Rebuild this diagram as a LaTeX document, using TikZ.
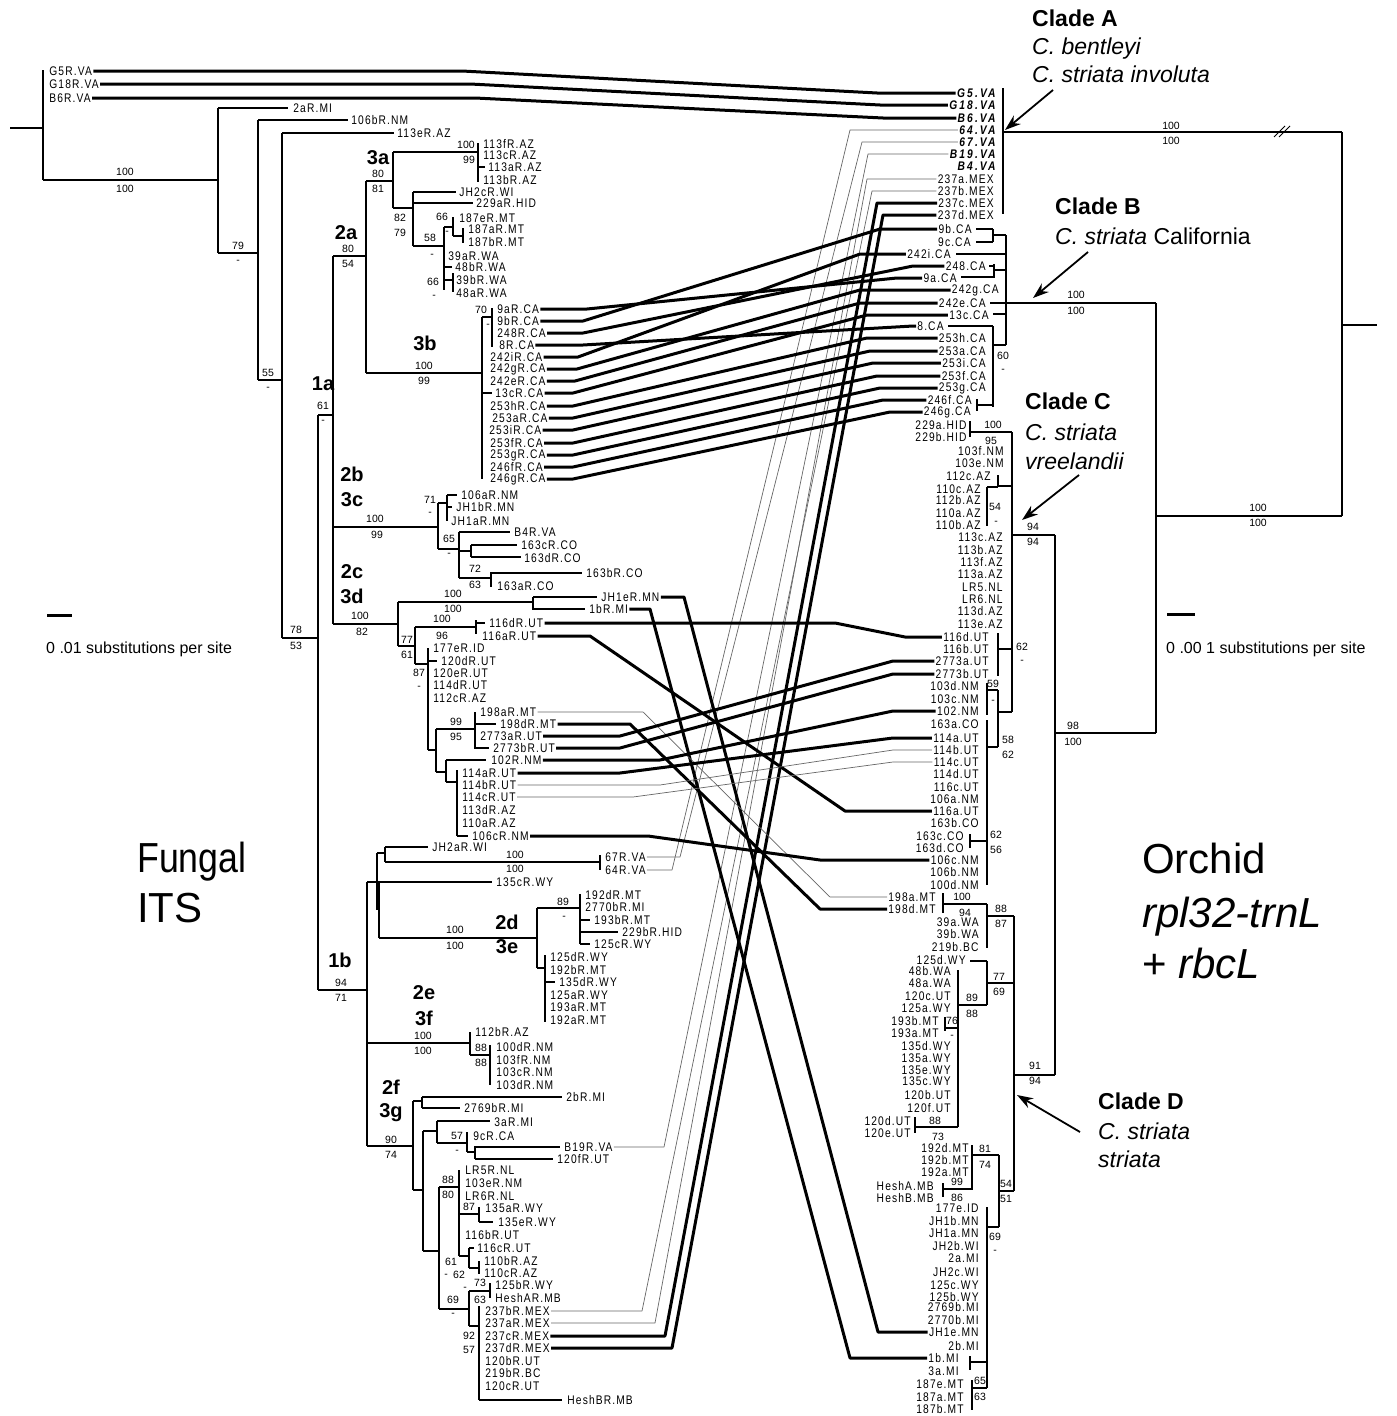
\documentclass[tikz,border=0pt]{standalone}
\usepackage{fontspec}
\setmainfont{Liberation Sans}
\newfontfamily\lffont[FakeStretch=0.82,LetterSpace=9]{Liberation Sans}
\newfontfamily\lfbfont[FakeStretch=0.82,LetterSpace=17]{Liberation Sans}
\newfontfamily\fungfont[FakeStretch=0.85]{Liberation Sans}
\usetikzlibrary{arrows.meta}
\newcounter{sc}
\tikzset{
  lf/.style={font=\lffont\fontsize{12.5}{13}\selectfont, inner sep=1.2pt},
  lfb/.style={font=\lfbfont\fontsize{12.5}{13}\selectfont\bfseries\itshape, inner sep=1.2pt},
  sup/.style={font=\fontsize{10.5}{11}\selectfont, inner sep=0pt},
  cl/.style={font=\fontsize{20}{20}\selectfont\bfseries, inner sep=0pt},
  br/.style={line width=1.5pt},
  thk/.style={line width=3pt, line join=round},
  thn/.style={line width=0.7pt, black!60, line join=round},
  bigt/.style={font=\fontsize{23}{23}\selectfont, anchor=base west, inner sep=0pt},
  bigb/.style={font=\fontsize{23}{23}\selectfont\bfseries, anchor=base west, inner sep=0pt},
  hugt/.style={font=\fontsize{42}{42}\selectfont, anchor=base west, inner sep=0pt},
  sclt/.style={font=\fontsize{16}{16}\selectfont, anchor=base west, inner sep=0pt},
  arr/.style={line width=1.8pt, -{Stealth[length=16pt,width=11pt]}},
}
\newcommand\leafL[4]{\node[lf,anchor=west] (L#1) at (#2,#3) {#4};}
\newcommand\leafR[4]{\node[lf,anchor=east] (R#1) at (#2,#3) {#4};}
\newcommand\leafRb[4]{\node[lfb,anchor=east] (R#1) at (#2,#3) {#4};}
\newcommand\sv[3]{\stepcounter{sc}\node[sup] (s\arabic{sc}) at (#1,#2) {#3};}
\newcommand\clab[3]{\stepcounter{sc}\node[cl] (c\arabic{sc}) at (#1,#2) {#3};}
\begin{document}
\begin{tikzpicture}[x=1pt,y=-1pt]
\useasboundingbox[fill=white] (0,0) rectangle (1397,1416);
% ================= LEFT TREE =================
\draw[br]
 (10,128)--(43,128) (43,70)--(43,180) (43,180)--(218,180)
 (218,108)--(218,253) (218,108)--(288,108)
 (218,253)--(258,253) (258,120)--(258,380) (258,120)--(348,120)
 (258,380)--(282,380) (282,133)--(282,638) (282,133)--(394,133)
 (282,638)--(318,638) (318,415)--(318,990)
 (318,415)--(333,415) (333,256)--(333,624)
 (333,256)--(366,256) (366,181)--(366,373)
 (366,181)--(393,181) (393,152)--(393,208)
 (393,152)--(478,152) (478,143)--(478,182) (478,167)--(485,167)
 (393,208)--(413,208) (413,192)--(413,246)
 (413,192)--(456,192) (413,203)--(473,203)
 (413,246)--(444,246) (444,227)--(444,290)
 (444,227)--(453,227) (453,217)--(453,236)
 (453,236)--(463,236) (463,228)--(463,243)
 (444,267)--(452,267)
 (444,280)--(453,280) (453,273)--(453,292)
 (366,373)--(482,373) (482,317)--(482,479)
 (482,317)--(492,317) (492,308)--(492,347)
 (482,393)--(492,393)
 (333,527)--(438,527) (438,503)--(438,549)
 (438,503)--(447,503) (447,495)--(447,521)
 (447,495)--(457,495) (447,507)--(452,507)
 (438,549)--(459,549) (459,532)--(459,578)
 (459,532)--(510,532)
 (459,551)--(471,551) (471,545)--(471,557)
 (471,545)--(517,545) (471,557)--(521,557)
 (459,578)--(491,578) (491,572)--(491,587)
 (491,573)--(582,573)
 (333,624)--(398,624) (398,602)--(398,646)
 (398,602)--(533,602) (533,597)--(533,610)
 (533,597)--(597,597) (533,609)--(585,609)
 (398,646)--(415,646) (415,627)--(415,664)
 (415,627)--(476,627) (476,620)--(476,634)
 (476,623)--(485,623)
 (415,664)--(428,664) (428,648)--(428,750)
 (428,661)--(437,661)
 (428,750)--(436,750) (436,729)--(436,772)
 (436,729)--(475,729) (475,712)--(475,749)
 (475,724)--(496,724) (475,748)--(489,748)
 (436,772)--(446,772) (446,760)--(446,782)
 (446,760)--(486,760)
 (446,782)--(457,782) (457,770)--(457,836) (457,836)--(468,836)
 (318,990)--(367,990) (367,882)--(367,1146)
 (367,882)--(379,882) (377,853)--(377,910) (379,882)--(379,938)
 (377,853)--(385,853) (385,847)--(385,862)
 (385,847)--(428,847) (385,862)--(600,862) (600,855)--(600,870)
 (379,882)--(492,882)
 (379,938)--(537,938) (537,908)--(537,968)
 (537,908)--(580,908) (580,894)--(580,944)
 (580,920)--(590,920) (580,932)--(618,932) (580,944)--(590,944)
 (537,968)--(545,968) (545,955)--(545,1022) (545,982)--(555,982)
 (367,1043)--(470,1043) (470,1032)--(470,1055)
 (470,1055)--(490,1055) (490,1045)--(490,1085)
 (367,1146)--(413,1146) (413,1101)--(413,1190)
 (413,1101)--(422,1101) (422,1097)--(422,1108)
 (422,1097)--(562,1097) (422,1108)--(460,1108)
 (413,1190)--(423,1190) (423,1131)--(423,1251)
 (423,1131)--(437,1131) (437,1121)--(437,1143)
 (437,1121)--(490,1121)
 (437,1143)--(467,1143) (467,1132)--(467,1152)
 (467,1152)--(475,1152) (475,1146)--(475,1159)
 (475,1147)--(560,1147) (475,1159)--(553,1159)
 (423,1251)--(439,1251) (439,1187)--(439,1309)
 (439,1187)--(459,1187) (459,1170)--(459,1256)
 (459,1214)--(479,1214) (479,1207)--(479,1222) (479,1222)--(493,1222)
 (459,1256)--(469,1256) (469,1248)--(469,1268)
 (469,1248)--(474,1248)
 (469,1268)--(479,1268) (479,1261)--(479,1274)
 (439,1309)--(469,1309) (469,1291)--(469,1326)
 (469,1291)--(490,1291) (490,1283)--(490,1298)
 (469,1326)--(479,1326) (479,1306)--(479,1400)
 (479,1400)--(562,1400);
% left leaves
\leafL{G5}{48}{71}{G5R.VA}
\leafL{G18}{48}{84}{G18R.VA}
\leafL{B6}{48}{98}{B6R.VA}
\leafL{2a}{292}{108}{2aR.MI}
\leafL{106b}{350}{120}{106bR.NM}
\leafL{113e}{396}{133}{113eR.AZ}
\leafL{113f}{482}{144}{113fR.AZ}
\leafL{113c}{482}{155}{113cR.AZ}
\leafL{113a}{487}{167}{113aR.AZ}
\leafL{113b}{482}{180}{113bR.AZ}
\leafL{JH2c}{458}{192}{JH2cR.WI}
\leafL{229a}{475}{203}{229aR.HID}
\leafL{187e}{458}{218}{187eR.MT}
\leafL{187a}{467}{229}{187aR.MT}
\leafL{187b}{467}{242}{187bR.MT}
\leafL{39a}{447}{256}{39aR.WA}
\leafL{48b}{454}{267}{48bR.WA}
\leafL{39b}{455}{280}{39bR.WA}
\leafL{48a}{455}{293}{48aR.WA}
\leafL{9a}{496}{309}{9aR.CA}
\leafL{9b}{496}{321}{9bR.CA}
\leafL{248}{496}{333}{248R.CA}
\leafL{8}{498}{345}{8R.CA}
\leafL{242i}{489}{357}{242iR.CA}
\leafL{242g}{489}{369}{242gR.CA}
\leafL{242e}{489}{381}{242eR.CA}
\leafL{13c}{494}{393}{13cR.CA}
\leafL{253h}{489}{406}{253hR.CA}
\leafL{253a}{491}{418}{253aR.CA}
\leafL{253i}{488}{430}{253iR.CA}
\leafL{253f}{489}{443}{253fR.CA}
\leafL{253g}{489}{455}{253gR.CA}
\leafL{246f}{489}{467}{246fR.CA}
\leafL{246g}{489}{479}{246gR.CA}
\leafL{106a}{460}{495}{106aR.NM}
\leafL{JH1b}{455}{507}{JH1bR.MN}
\leafL{JH1a}{450}{521}{JH1aR.MN}
\leafL{B4}{513}{532}{B4R.VA}
\leafL{163c}{520}{545}{163cR.CO}
\leafL{163d}{523}{558}{163dR.CO}
\leafL{163b}{585}{573}{163bR.CO}
\leafL{163a}{496}{586}{163aR.CO}
\leafL{JH1e}{600}{597}{JH1eR.MN}
\leafL{1b}{588}{609}{1bR.MI}
\leafL{116d}{488}{623}{116dR.UT}
\leafL{116a}{481}{636}{116aR.UT}
\leafL{177e}{432}{648}{177eR.ID}
\leafL{120d}{440}{661}{120dR.UT}
\leafL{120e}{432}{673}{120eR.UT}
\leafL{114d}{432}{685}{114dR.UT}
\leafL{112c}{432}{698}{112cR.AZ}
\leafL{198a}{479}{712}{198aR.MT}
\leafL{198d}{499}{724}{198dR.MT}
\leafL{2773a}{479}{736}{2773aR.UT}
\leafL{2773b}{492}{748}{2773bR.UT}
\leafL{102}{490}{760}{102R.NM}
\leafL{114a}{461}{773}{114aR.UT}
\leafL{114b}{461}{785}{114bR.UT}
\leafL{114c}{461}{797}{114cR.UT}
\leafL{113d}{461}{810}{113dR.AZ}
\leafL{110a}{461}{823}{110aR.AZ}
\leafL{106c}{471}{836}{106cR.NM}
\leafL{JH2a}{431}{847}{JH2aR.WI}
\leafL{67}{604}{857}{67R.VA}
\leafL{64}{604}{870}{64R.VA}
\leafL{135c}{495}{882}{135cR.WY}
\leafL{192d}{584}{895}{192dR.MT}
\leafL{2770b}{584}{907}{2770bR.MI}
\leafL{193b}{593}{920}{193bR.MT}
\leafL{229b}{621}{932}{229bR.HID}
\leafL{125c}{593}{944}{125cR.WY}
\leafL{125d}{549}{957}{125dR.WY}
\leafL{192b}{549}{970}{192bR.MT}
\leafL{135d}{558}{982}{135dR.WY}
\leafL{125a}{549}{995}{125aR.WY}
\leafL{193a}{549}{1007}{193aR.MT}
\leafL{192a}{549}{1020}{192aR.MT}
\leafL{112b}{474}{1032}{112bR.AZ}
\leafL{100d}{495}{1047}{100dR.NM}
\leafL{103f}{495}{1060}{103fR.NM}
\leafL{103c}{495}{1072}{103cR.NM}
\leafL{103d}{495}{1085}{103dR.NM}
\leafL{2b}{565}{1097}{2bR.MI}
\leafL{2769b}{463}{1108}{2769bR.MI}
\leafL{3a}{493}{1122}{3aR.MI}
\leafL{9c}{472}{1136}{9cR.CA}
\leafL{B19}{563}{1147}{B19R.VA}
\leafL{120f}{556}{1159}{120fR.UT}
\leafL{LR5}{464}{1170}{LR5R.NL}
\leafL{103e}{464}{1183}{103eR.NM}
\leafL{LR6}{464}{1196}{LR6R.NL}
\leafL{135a}{484}{1208}{135aR.WY}
\leafL{135e}{497}{1222}{135eR.WY}
\leafL{116b}{464}{1235}{116bR.UT}
\leafL{116c}{476}{1248}{116cR.UT}
\leafL{110b}{483}{1261}{110bR.AZ}
\leafL{110c}{483}{1273}{110cR.AZ}
\leafL{125b}{494}{1285}{125bR.WY}
\leafL{HeshA}{494}{1298}{HeshAR.MB}
\leafL{237b}{484}{1311}{237bR.MEX}
\leafL{237a}{484}{1323}{237aR.MEX}
\leafL{237c}{484}{1336}{237cR.MEX}
\leafL{237d}{484}{1348}{237dR.MEX}
\leafL{120b}{484}{1361}{120bR.UT}
\leafL{219b}{484}{1373}{219bR.BC}
\leafL{120c}{484}{1386}{120cR.UT}
\leafL{HeshB}{566}{1400}{HeshBR.MB}
% left support values
\sv{125}{172}{100} \sv{125}{189}{100}
\sv{238}{246}{79} \sv{238}{262}{-}
\sv{268}{373}{55} \sv{268}{389}{-}
\sv{296}{630}{78} \sv{296}{646}{53}
\sv{323}{406}{61} \sv{323}{422}{-}
\sv{348}{249}{80} \sv{348}{264}{54}
\sv{378}{174}{80} \sv{378}{189}{81}
\sv{466}{145}{100} \sv{469}{160}{99}
\sv{400}{218}{82} \sv{400}{233}{79}
\sv{430}{238}{58} \sv{432}{256}{-}
\sv{442}{217}{66} \sv{447}{233}{-}
\sv{433}{282}{66} \sv{434}{297}{-}
\sv{424}{366}{100} \sv{424}{381}{99}
\sv{481}{310}{70} \sv{488}{326}{-}
\sv{375}{519}{100} \sv{377}{535}{99}
\sv{430}{500}{71} \sv{430}{514}{-}
\sv{449}{539}{65} \sv{449}{555}{-}
\sv{475}{569}{72} \sv{475}{585}{63}
\sv{360}{616}{100} \sv{362}{632}{82}
\sv{453}{594}{100} \sv{453}{609}{100}
\sv{407}{640}{77} \sv{407}{655}{61}
\sv{442}{619}{100} \sv{442}{636}{96}
\sv{419}{673}{87} \sv{419}{688}{-}
\sv{456}{722}{99} \sv{456}{737}{95}
\sv{341}{983}{94} \sv{341}{998}{71}
\sv{515}{855}{100} \sv{515}{869}{100}
\sv{455}{930}{100} \sv{455}{946}{100}
\sv{563}{902}{89} \sv{564}{918}{-}
\sv{423}{1036}{100} \sv{423}{1051}{100}
\sv{481}{1048}{88} \sv{481}{1063}{88}
\sv{391}{1140}{90} \sv{391}{1155}{74}
\sv{457}{1136}{57} \sv{457}{1152}{-}
\sv{448}{1180}{88} \sv{448}{1195}{80}
\sv{469}{1207}{87}
\sv{451}{1262}{61} \sv{446}{1276}{-} \sv{459}{1275}{62}
\sv{453}{1300}{69} \sv{453}{1315}{-}
\sv{480}{1283}{73} \sv{465}{1289}{-} \sv{480}{1300}{63}
\sv{469}{1336}{92} \sv{469}{1350}{57}
% left clade labels
\clab{378}{158}{3a} \clab{346}{233}{2a} \clab{425}{343}{3b} \clab{323}{384}{1a}
\clab{352}{474}{2b} \clab{352}{500}{3c} \clab{352}{572}{2c} \clab{352}{596}{3d}
\clab{340}{960}{1b} \clab{507}{922}{2d} \clab{507}{947}{3e} \clab{424}{993}{2e}
\clab{424}{1018}{3f} \clab{391}{1087}{2f} \clab{391}{1113}{3g}
% ================= RIGHT TREE =================
\draw[line width=1.8pt] (1003,88)--(1003,214);
\draw[br]
 (1003,132)--(1342,132)
 (976,229)--(993,229) (976,242)--(993,242) (993,229)--(993,242) (993,235)--(1006,235)
 (956,254)--(1006,254)
 (989,266)--(994,266) (961,277)--(994,277) (994,264)--(994,278) (994,270)--(1006,270)
 (990,303)--(1006,303) (993,314)--(1006,314)
 (1006,235)--(1006,345)
 (948,326)--(993,326) (993,326)--(993,407) (993,345)--(1006,345)
 (977,399)--(977,411) (977,405)--(993,405)
 (1006,303)--(1156,303)
 (970,421)--(970,437) (970,432)--(1012,432)
 (1012,432)--(1012,712)
 (998,475)--(998,487) (998,486)--(1012,486) (987,487)--(987,526) (987,487)--(998,487)
 (1012,535)--(1055,535)
 (998,633)--(998,676) (998,649)--(1012,649)
 (987,683)--(987,715) (987,690)--(998,690)
 (998,690)--(998,747) (998,712)--(1012,712) (987,747)--(998,747)
 (987,720)--(987,885)
 (970,834)--(970,848) (970,841)--(987,841)
 (943,893)--(943,913) (943,904)--(987,904)
 (987,904)--(987,948) (987,916)--(1014,916)
 (970,961)--(987,961) (987,961)--(987,1005) (987,983)--(1014,983)
 (958,970)--(958,1127) (958,1005)--(987,1005)
 (945,1017)--(945,1031) (945,1028)--(958,1028)
 (915,1117)--(915,1133) (915,1127)--(958,1127)
 (972,1145)--(972,1190) (972,1155)--(999,1155)
 (943,1183)--(943,1197) (943,1189)--(972,1189)
 (999,1155)--(999,1227) (999,1191)--(1014,1191)
 (987,1207)--(987,1388) (987,1227)--(999,1227)
 (970,1356)--(970,1370) (970,1362)--(987,1362)
 (972,1380)--(972,1410) (972,1388)--(987,1388)
 (1014,916)--(1014,1191) (1014,1075)--(1055,1075)
 (1055,535)--(1055,1075) (1055,733)--(1156,733)
 (1156,303)--(1156,733) (1156,516)--(1342,516)
 (1342,132)--(1342,516) (1342,325)--(1377,325);
\draw[line width=1pt] (1274,137)--(1285,126) (1279,137)--(1290,126);
% right leaves
\leafRb{G5}{997}{93}{G5.VA}
\leafRb{G18}{997}{105}{G18.VA}
\leafRb{B6}{997}{118}{B6.VA}
\leafRb{64}{997}{130}{64.VA}
\leafRb{67}{997}{142}{67.VA}
\leafRb{B19}{997}{154}{B19.VA}
\leafRb{B4}{997}{166}{B4.VA}
\leafR{237a}{995}{179}{237a.MEX}
\leafR{237b}{995}{191}{237b.MEX}
\leafR{237c}{995}{203}{237c.MEX}
\leafR{237d}{995}{215}{237d.MEX}
\leafR{9b}{973}{229}{9b.CA}
\leafR{9c}{972}{242}{9c.CA}
\leafR{242i}{952}{254}{242i.CA}
\leafR{248}{987}{266}{248.CA}
\leafR{9a}{958}{278}{9a.CA}
\leafR{242g}{1000}{290}{242g.CA}
\leafR{242e}{987}{303}{242e.CA}
\leafR{13c}{990}{315}{13c.CA}
\leafR{8}{945}{326}{8.CA}
\leafR{253h}{987}{338}{253h.CA}
\leafR{253a}{987}{351}{253a.CA}
\leafR{253i}{987}{363}{253i.CA}
\leafR{253f}{987}{376}{253f.CA}
\leafR{253g}{987}{388}{253g.CA}
\leafR{246f}{973}{400}{246f.CA}
\leafR{246g}{972}{412}{246g.CA}
\leafR{229a}{968}{425}{229a.HID}
\leafR{229b}{968}{437}{229b.HID}
\leafR{103f}{1005}{451}{103f.NM}
\leafR{103e}{1005}{463}{103e.NM}
\leafR{112c}{992}{476}{112c.AZ}
\leafR{110c}{982}{489}{110c.AZ}
\leafR{112b}{982}{500}{112b.AZ}
\leafR{110a}{982}{513}{110a.AZ}
\leafR{110b}{982}{525}{110b.AZ}
\leafR{113c}{1004}{537}{113c.AZ}
\leafR{113b}{1004}{550}{113b.AZ}
\leafR{113f}{1004}{562}{113f.AZ}
\leafR{113a}{1004}{574}{113a.AZ}
\leafR{LR5}{1004}{587}{LR5.NL}
\leafR{LR6}{1004}{599}{LR6.NL}
\leafR{113d}{1004}{611}{113d.AZ}
\leafR{113e}{1004}{624}{113e.AZ}
\leafR{116d}{990}{637}{116d.UT}
\leafR{116b}{990}{649}{116b.UT}
\leafR{2773a}{990}{661}{2773a.UT}
\leafR{2773b}{990}{674}{2773b.UT}
\leafR{103d}{980}{686}{103d.NM}
\leafR{103c}{980}{699}{103c.NM}
\leafR{102}{980}{711}{102.NM}
\leafR{163a}{980}{724}{163a.CO}
\leafR{114a}{980}{738}{114a.UT}
\leafR{114b}{980}{750}{114b.UT}
\leafR{114c}{980}{762}{114c.UT}
\leafR{114d}{980}{774}{114d.UT}
\leafR{116c}{980}{787}{116c.UT}
\leafR{106a}{980}{799}{106a.NM}
\leafR{116a}{980}{811}{116a.UT}
\leafR{163b}{980}{823}{163b.CO}
\leafR{163c}{965}{836}{163c.CO}
\leafR{163d}{965}{848}{163d.CO}
\leafR{106c}{980}{860}{106c.NM}
\leafR{106b}{980}{872}{106b.NM}
\leafR{100d}{980}{885}{100d.NM}
\leafR{198a}{937}{897}{198a.MT}
\leafR{198d}{937}{909}{198d.MT}
\leafR{39a}{980}{922}{39a.WA}
\leafR{39b}{980}{934}{39b.WA}
\leafR{219b}{980}{947}{219b.BC}
\leafR{125d}{967}{960}{125d.WY}
\leafR{48b}{952}{971}{48b.WA}
\leafR{48a}{952}{983}{48a.WA}
\leafR{120c}{952}{996}{120c.UT}
\leafR{125a}{952}{1008}{125a.WY}
\leafR{193b}{940}{1021}{193b.MT}
\leafR{193a}{940}{1033}{193a.MT}
\leafR{135d}{952}{1046}{135d.WY}
\leafR{135a}{952}{1058}{135a.WY}
\leafR{135e}{952}{1070}{135e.WY}
\leafR{135c}{952}{1081}{135c.WY}
\leafR{120b}{952}{1095}{120b.UT}
\leafR{120f}{952}{1108}{120f.UT}
\leafR{120d}{912}{1121}{120d.UT}
\leafR{120e}{912}{1133}{120e.UT}
\leafR{192d}{970}{1148}{192d.MT}
\leafR{192b}{970}{1160}{192b.MT}
\leafR{192a}{970}{1172}{192a.MT}
\leafR{HeshA}{935}{1186}{HeshA.MB}
\leafR{HeshB}{935}{1198}{HeshB.MB}
\leafR{177e}{980}{1208}{177e.ID}
\leafR{JH1b}{980}{1221}{JH1b.MN}
\leafR{JH1a}{980}{1233}{JH1a.MN}
\leafR{JH2b}{980}{1246}{JH2b.WI}
\leafR{2a}{980}{1258}{2a.MI}
\leafR{JH2c}{980}{1272}{JH2c.WI}
\leafR{125c}{980}{1285}{125c.WY}
\leafR{125b}{980}{1297}{125b.WY}
\leafR{2769b}{980}{1307}{2769b.MI}
\leafR{2770b}{980}{1320}{2770b.MI}
\leafR{JH1e}{980}{1332}{JH1e.MN}
\leafR{2b}{980}{1346}{2b.MI}
\leafR{1b}{960}{1358}{1b.MI}
\leafR{3a}{960}{1371}{3a.MI}
\leafR{187e}{965}{1384}{187e.MT}
\leafR{187a}{965}{1397}{187a.MT}
\leafR{187b}{965}{1409}{187b.MT}
% right support values
\sv{1171}{126}{100} \sv{1171}{141}{100}
\sv{1003}{356}{60} \sv{1003}{371}{-}
\sv{1076}{295}{100} \sv{1076}{311}{100}
\sv{993}{425}{100} \sv{991}{441}{95}
\sv{995}{507}{54} \sv{996}{523}{-}
\sv{1033}{527}{94} \sv{1033}{542}{94}
\sv{1022}{647}{62} \sv{1022}{662}{-}
\sv{993}{684}{59} \sv{993}{702}{-}
\sv{1008}{740}{58} \sv{1008}{755}{62}
\sv{996}{835}{62} \sv{996}{850}{56}
\sv{962}{897}{100} \sv{965}{913}{94}
\sv{1001}{909}{88} \sv{1001}{924}{87}
\sv{999}{977}{77} \sv{999}{992}{69}
\sv{972}{998}{89} \sv{972}{1014}{88}
\sv{952}{1021}{76} \sv{952}{1037}{-}
\sv{935}{1121}{88} \sv{938}{1137}{73}
\sv{985}{1149}{81} \sv{985}{1165}{74}
\sv{957}{1182}{99} \sv{957}{1198}{86}
\sv{1006}{1184}{54} \sv{1006}{1199}{51}
\sv{995}{1237}{69} \sv{995}{1252}{-}
\sv{980}{1381}{65} \sv{980}{1397}{63}
\sv{1035}{1066}{91} \sv{1035}{1081}{94}
\sv{1073}{726}{98} \sv{1073}{742}{100}
\sv{1258}{508}{100} \sv{1258}{523}{100}
% ================= CONNECTORS =================
\draw[thk] (LG5.east) -- (462,71) -- (877,93) -- (RG5.west);
\draw[thk] (LG18.east) -- (470,84) -- (880,105) -- (RG18.west);
\draw[thk] (LB6.east) -- (475,98) -- (883,118) -- (RB6.west);
\draw[thn] (L64.east) -- (672,870) -- (850,130) -- (R64.west);
\draw[thn] (L67.east) -- (680,857) -- (862,142) -- (R67.west);
\draw[thn] (LB19.east) -- (664,1147) -- (868,154) -- (RB19.west);
\draw[thn] (L237a.east) -- (655,1323) -- (867,179) -- (R237a.west);
\draw[thn] (L237b.east) -- (642,1311) -- (872,191) -- (R237b.west);
\draw[thk] (L237c.east) -- (665,1336) -- (877,203) -- (R237c.west);
\draw[thk] (L237d.east) -- (672,1348) -- (883,215) -- (R237d.west);
\draw[thk] (L9a.east) -- (587,309) -- (897,278) -- (R9a.west);
\draw[thk] (L9b.east) -- (583,321) -- (880,229) -- (R9b.west);
\draw[thk] (L248.east) -- (583,333) -- (913,266) -- (R248.west);
\draw[thk] (L8.east) -- (583,345) -- (913,326) -- (R8.west);
\draw[thk] (L242i.east) -- (578,357) -- (860,254) -- (R242i.west);
\draw[thk] (L242g.east) -- (577,369) -- (860,290) -- (R242g.west);
\draw[thk] (L242e.east) -- (575,381) -- (860,303) -- (R242e.west);
\draw[thk] (L13c.east) -- (573,393) -- (867,315) -- (R13c.west);
\draw[thk] (L253h.east) -- (573,406) -- (867,338) -- (R253h.west);
\draw[thk] (L253a.east) -- (573,418) -- (870,351) -- (R253a.west);
\draw[thk] (L253i.east) -- (573,430) -- (873,363) -- (R253i.west);
\draw[thk] (L253f.east) -- (573,443) -- (877,376) -- (R253f.west);
\draw[thk] (L253g.east) -- (573,455) -- (880,388) -- (R253g.west);
\draw[thk] (L246f.east) -- (573,467) -- (883,400) -- (R246f.west);
\draw[thk] (L246g.east) -- (573,479) -- (890,412) -- (R246g.west);
\draw[thk] (LJH1e.east) -- (684,597) -- (878,1332) -- (RJH1e.west);
\draw[thk] (L1b.east) -- (650,609) -- (850,1358) -- (R1b.west);
\draw[thk] (L116d.east) -- (835,623) -- (905,637) -- (R116d.west);
\draw[thk] (L116a.east) -- (590,636) -- (845,811) -- (R116a.west);
\draw[thn] (L198a.east) -- (643,712) -- (830,897) -- (R198a.west);
\draw[thk] (L198d.east) -- (630,724) -- (820,909) -- (R198d.west);
\draw[thk] (L2773a.east) -- (620,736) -- (893,661) -- (R2773a.west);
\draw[thk] (L2773b.east) -- (620,748) -- (893,674) -- (R2773b.west);
\draw[thk] (L102.east) -- (660,760) -- (893,711) -- (R102.west);
\draw[thk] (L114a.east) -- (620,773) -- (893,738) -- (R114a.west);
\draw[thn] (L114b.east) -- (660,785) -- (893,750) -- (R114b.west);
\draw[thn] (L114c.east) -- (633,797) -- (893,762) -- (R114c.west);
\draw[thk] (L106c.east) -- (648,836) -- (820,860) -- (R106c.west);
% ================= TEXTS =================
\node[bigb] (tA1) at (1032,27) {Clade A};
\node[bigt] (tA2) at (1032,54) {\textit{C. bentleyi}};
\node[bigt] (tA3) at (1032,82) {\textit{C. striata involuta}};
\node[bigb] (tB1) at (1055,214) {Clade B};
\node[bigt] (tB2) at (1055,244) {\textit{C. striata} California};
\node[bigb] (tC1) at (1025,409) {Clade C};
\node[bigt] (tC2) at (1025,440) {\textit{C. striata}};
\node[bigt] (tC3) at (1025,469) {\textit{vreelandii}};
\node[bigb] (tD1) at (1098,1109) {Clade D};
\node[bigt] (tD2) at (1098,1139) {\textit{C. striata}};
\node[bigt] (tD3) at (1098,1167) {\textit{striata}};
\node[hugt, font=\fungfont\fontsize{42}{42}\selectfont] (f1) at (137,872) {Fungal};
\node[hugt] (f2) at (137,922) {ITS};
\node[hugt] (o1) at (1142,873) {Orchid};
\node[hugt] (o2) at (1142,927) {\textit{rpl32-trnL}};
\node[hugt] (o3) at (1142,978) {+ \textit{rbcL}};
\draw[line width=3pt] (47,615) -- (72,615);
\node[sclt] (sb1) at (46,653) {0 .01 substitutions per site};
\draw[line width=3pt] (1167,614) -- (1195,614);
\node[sclt] (sb2) at (1166,653) {0 .00 1 substitutions per site};
% arrows
\coordinate (aA1) at (1053,90); \coordinate (aA2) at (1005,130);
\coordinate (aB1) at (1088,252); \coordinate (aB2) at (1033,298);
\coordinate (aC1) at (1079,475); \coordinate (aC2) at (1022,520);
\coordinate (aD1) at (1080,1132); \coordinate (aD2) at (1017,1095);
\draw[arr] (aA1) -- (aA2);
\draw[arr] (aB1) -- (aB2);
\draw[arr] (aC1) -- (aC2);
\draw[arr] (aD1) -- (aD2);
\end{tikzpicture}
\end{document}
